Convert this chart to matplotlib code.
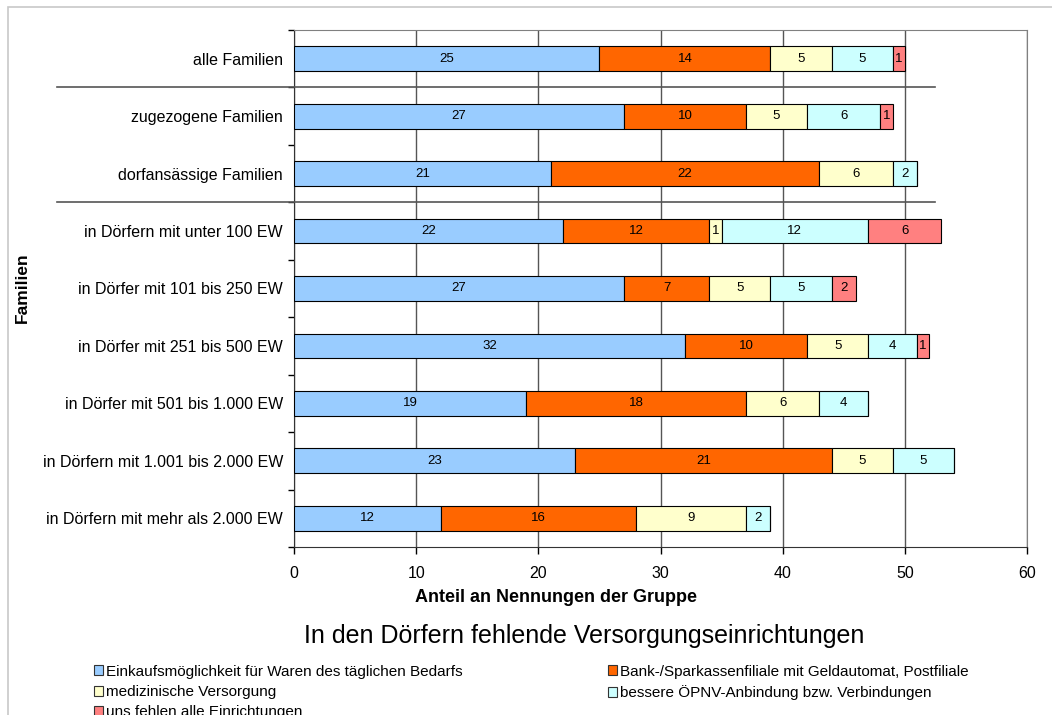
import matplotlib
matplotlib.use("Agg")
import matplotlib.pyplot as plt
import matplotlib.transforms as mtransforms
from matplotlib.patches import Rectangle, Patch
import numpy as np

plt.rcParams['font.family'] = ['Liberation Sans', 'DejaVu Sans']

# Daten
gruppen = [
    "alle Familien",
    "zugezogene Familien",
    "dorfansässige Familien",
    "in Dörfern mit unter 100 EW",
    "in Dörfer mit 101 bis 250 EW",
    "in Dörfer mit 251 bis 500 EW",
    "in Dörfer mit 501 bis 1.000 EW",
    "in Dörfern mit 1.001 bis 2.000 EW",
    "in Dörfern mit mehr als 2.000 EW",
]
einkauf = [25, 27, 21, 22, 27, 32, 19, 23, 12]
bank = [14, 10, 22, 12, 7, 10, 18, 21, 16]
medizin = [5, 5, 6, 1, 5, 5, 6, 5, 9]
oepnv = [5, 6, 2, 12, 5, 4, 4, 5, 2]
alle_fehlen = [1, 1, 0, 6, 2, 1, 0, 0, 0]

serien = [einkauf, bank, medizin, oepnv, alle_fehlen]
namen = [
    "Einkaufsmöglichkeit für Waren des täglichen Bedarfs",
    "Bank-/Sparkassenfiliale mit Geldautomat, Postfiliale",
    "medizinische Versorgung",
    "bessere ÖPNV-Anbindung bzw. Verbindungen",
    "uns fehlen alle Einrichtungen",
]
farben = ["#99CCFF", "#FF6600", "#FFFFCC", "#CCFFFF", "#FF8080"]

fig = plt.figure(figsize=(10.52, 7.15), dpi=100)
ax = fig.add_axes([294 / 1052, 1 - 547 / 715, 733 / 1052, 517 / 715])

y = np.arange(len(gruppen))
links = np.zeros(len(gruppen))
for werte, farbe in zip(serien, farben):
    werte = np.array(werte, dtype=float)
    bars = ax.barh(y, werte, left=links, height=0.43, color=farbe,
                   edgecolor="black", linewidth=0.8, zorder=3)
    for b, v in zip(bars, werte):
        if v > 0:
            ax.text(b.get_x() + b.get_width() / 2, b.get_y() + b.get_height() / 2,
                    f"{int(v)}", ha="center", va="center", fontsize=9.5, zorder=4)
    links += werte

ax.set_xlim(0, 60)
ax.set_ylim(len(gruppen) - 0.5, -0.5)
ax.set_xticks(range(0, 61, 10))
ax.tick_params(axis="x", labelsize=11.5, length=5, direction="out", width=1, pad=9)
ax.set_yticks(y)
ax.set_yticklabels(gruppen, fontsize=11.5)
ax.tick_params(axis="y", length=0, pad=8)
ax.set_yticks(np.arange(-0.5, len(gruppen) + 0.5, 1), minor=True)
ax.tick_params(axis="y", which="minor", length=4, width=1)

ax.xaxis.grid(True, color="#555555", linewidth=1, zorder=0)
for s in ["top", "right"]:
    ax.spines[s].set_color("#808080")
for s in ["left", "bottom"]:
    ax.spines[s].set_color("#333333")

# Trennlinien
trans = mtransforms.blended_transform_factory(fig.transFigure, ax.transData)
for yb in [0.5, 2.5]:
    ax.plot([57 / 1052, 935 / 1052], [yb, yb], color="#555555", linewidth=1.2,
            transform=trans, clip_on=False, zorder=5)

fig.text(556 / 1052, 1 - 598 / 715, "Anteil an Nennungen der Gruppe",
         ha="center", va="center", fontsize=13, fontweight="bold")
fig.text(22 / 1052, 1 - 288 / 715, "Familien", rotation=90,
         ha="center", va="center", fontsize=12.5, fontweight="bold")
fig.text(584 / 1052, 1 - 636 / 715, "In den Dörfern fehlende Versorgungseinrichtungen",
         ha="center", va="center", fontsize=18)

handles = [Patch(facecolor=f, edgecolor="#333333", linewidth=0.8) for f in farben]
order = [0, 2, 4, 1, 3]
fig.legend([handles[i] for i in order], [namen[i] for i in order],
           loc="upper left", bbox_to_anchor=(86 / 1052, 1 - 657 / 715),
           ncol=2, frameon=False, fontsize=11, handlelength=0.6, handleheight=0.6,
           handletextpad=0.2, columnspacing=9.5, labelspacing=0.42, borderpad=0)

fig.patches.append(Rectangle((8 / 1052, -0.1), 1.2, 1 - 7 / 715 + 0.1,
                             transform=fig.transFigure, fill=False,
                             edgecolor="#c8c8c8", linewidth=1.2))

fig.savefig("out.png", dpi=100)
